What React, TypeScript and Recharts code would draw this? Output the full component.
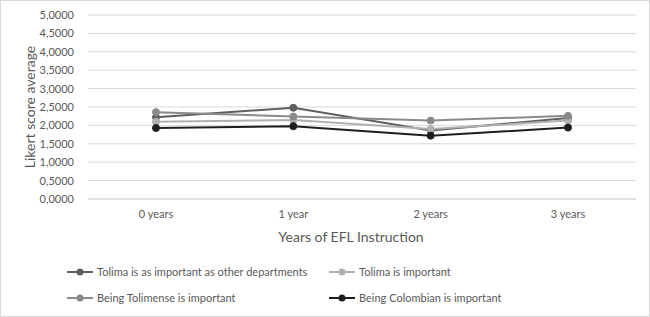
import { LineChart, Line, XAxis, YAxis, CartesianGrid } from "recharts";

const years = ["0 years", "1 year", "2 years", "3 years"];
const asImportantAsOthers = [2.22, 2.48, 1.86, 2.2];
const tolimaImportant = [2.1, 2.15, 1.9, 2.13];
const tolimenseImportant = [2.36, 2.24, 2.13, 2.26];
const colombianImportant = [1.93, 1.98, 1.72, 1.94];
const yTicks = [0, 0.5, 1, 1.5, 2, 2.5, 3, 3.5, 4, 4.5, 5];

const SERIES = [
  { key: "a", name: "Tolima is as important as other departments", color: "#5e5e5e" },
  { key: "b", name: "Tolima is important", color: "#b0b0b0" },
  { key: "c", name: "Being Tolimense is important", color: "#8a8a8a" },
  { key: "d", name: "Being Colombian is important", color: "#1e1e1e" },
];

const data = years.map((y, i) => ({
  year: y,
  a: asImportantAsOthers[i],
  b: tolimaImportant[i],
  c: tolimenseImportant[i],
  d: colombianImportant[i],
}));

const FONT = "Lato, 'Open Sans', sans-serif";

function LegendItem({ name, color }: { name: string; color: string }) {
  return (
    <div style={{ display: "flex", alignItems: "center", whiteSpace: "nowrap" }}>
      <svg width={26} height={10} style={{ marginRight: 4 }}>
        <line x1={0} y1={5} x2={26} y2={5} stroke={color} strokeWidth={2} />
        <circle cx={13} cy={5} r={3.5} fill={color} />
      </svg>
      <span>{name}</span>
    </div>
  );
}

export default function App() {
  return (
    <div
      style={{
        position: "absolute",
        left: 0,
        top: 0,
        width: 650,
        height: 317,
        background: "#fff",
        border: "1px solid #d9d9d9",
        boxSizing: "border-box",
        overflow: "hidden",
      }}
    >
      <div style={{ position: "absolute", left: -1, top: -1 }}>
        <LineChart
          width={650}
          height={317}
          data={data}
          margin={{ top: 15, right: 14, bottom: 88, left: 0 }}
        >
          <CartesianGrid vertical={false} stroke="#d9d9d9" />
          <XAxis
            dataKey="year"
            axisLine={{ stroke: "#d9d9d9" }}
            tickLine={false}
            height={30}
            padding={{ left: 68, right: 68 }}
            tick={{ fill: "#595959", fontSize: 11, fontFamily: FONT }}
            tickMargin={5}
            label={{
              value: "Years of EFL Instruction",
              position: "bottom",
              offset: 3,
              dx: -11,
              fill: "#595959",
              fontSize: 14,
              fontFamily: FONT,
            }}
          />
          <YAxis
            width={88}
            domain={[0, 5]}
            ticks={yTicks}
            interval={0}
            axisLine={false}
            tickLine={false}
            tick={{ fill: "#595959", fontSize: 11, fontFamily: FONT }}
            tickFormatter={(v: number) => v.toFixed(4).replace(".", ",")}
            tickMargin={8}
            label={{
              value: "Likert score average",
              angle: -90,
              position: "center",
              dx: -14,
              fill: "#595959",
              fontSize: 14,
              fontFamily: FONT,
            }}
          />
          {SERIES.map((s) => (
            <Line
              key={s.key}
              dataKey={s.key}
              name={s.name}
              stroke={s.color}
              strokeWidth={2}
              dot={{ r: 3.5, fill: s.color, stroke: s.color, strokeWidth: 1 }}
              isAnimationActive={false}
            />
          ))}
        </LineChart>
      </div>
      <div
        style={{
          position: "absolute",
          left: 66,
          top: 264,
          display: "grid",
          gridTemplateColumns: "262px 200px",
          rowGap: 13,
          fontFamily: FONT,
          fontSize: 11,
          color: "#595959",
        }}
      >
        {SERIES.map((s) => (
          <LegendItem key={s.key} name={s.name} color={s.color} />
        ))}
      </div>
    </div>
  );
}
